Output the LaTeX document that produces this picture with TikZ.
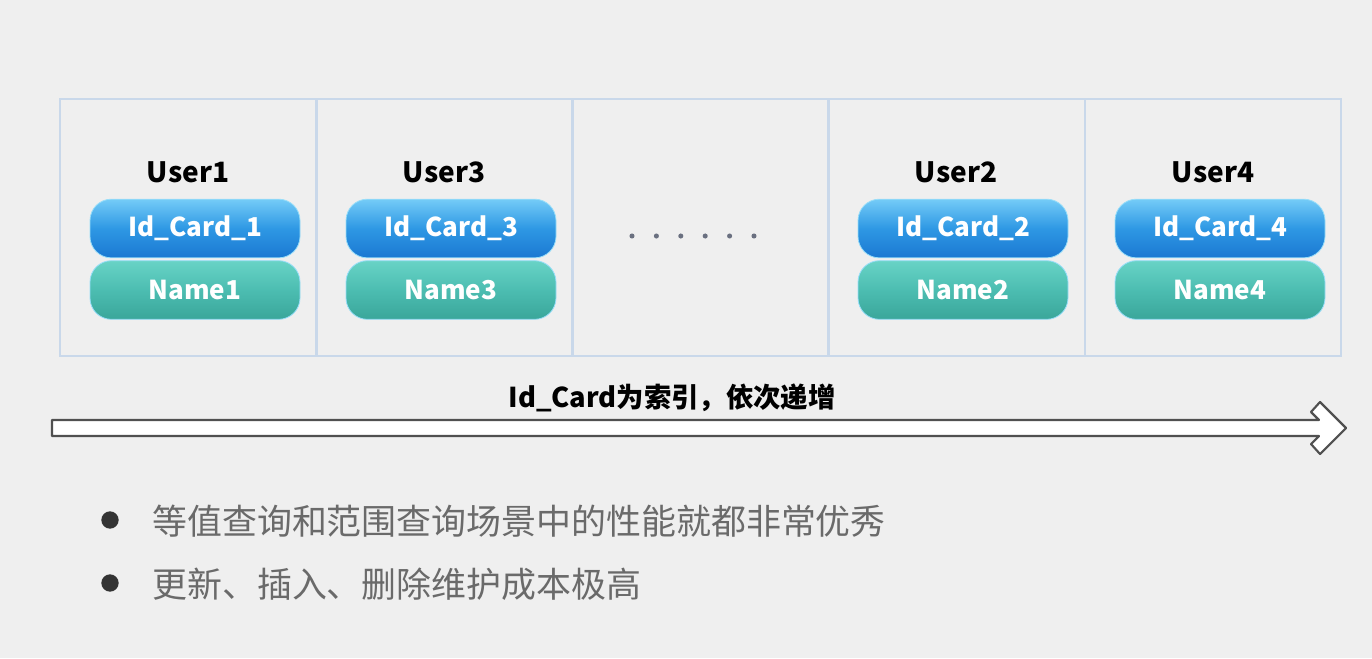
\documentclass[tikz,border=0pt]{standalone}
\usepackage{fontspec}
\setmainfont{Noto Sans CJK SC}
\newfontfamily\cjk{Noto Sans CJK SC}
\usetikzlibrary{shapes.geometric}
\definecolor{bgc}{HTML}{EFEFEF}
\definecolor{gridc}{HTML}{C9D8EA}
\definecolor{bluetop}{HTML}{74CBF7}
\definecolor{bluemid}{HTML}{2E98E4}
\definecolor{bluebot}{HTML}{1B78D2}
\definecolor{tealtop}{HTML}{68D3C6}
\definecolor{tealmid}{HTML}{4CBDB1}
\definecolor{tealbot}{HTML}{3AA69A}
\definecolor{txtgray}{HTML}{6A6A6A}
\definecolor{arrowc}{HTML}{505050}
\definecolor{dotc}{HTML}{6A7080}
\tikzset{
  usertitle/.style={font=\cjk\bfseries\fontsize{21}{23}\selectfont, text=black, inner sep=0pt},
  pill/.style={minimum width=157.5pt, minimum height=44pt, rounded corners=16pt, inner sep=0pt,
     text=white, font=\cjk\bfseries\fontsize{19.5}{21}\selectfont, draw=cyan!40, line width=0.6pt},
  idpill/.style={pill, top color=bluetop, bottom color=bluebot, middle color=bluemid},
  namepill/.style={pill, top color=tealtop, bottom color=tealbot, middle color=tealmid},
  cell/.style={draw=gridc, line width=1.5pt, minimum width=192pt, minimum height=192.75pt, inner sep=0pt},
  bullettext/.style={font=\cjk\fontsize{26.2}{28}\selectfont, text=txtgray, anchor=west, inner sep=0pt},
  bulletdot/.style={circle, fill=black!80, minimum size=13pt, inner sep=0pt},
  smalldot/.style={circle, fill=dotc, minimum size=3.8pt, inner sep=0pt},
}
\begin{document}
\begin{tikzpicture}[x=0.75pt, y=-0.75pt]
\useasboundingbox[fill=bgc] (0,0) rectangle (1372,658);
% cells
\node[cell] (c1) at (187.5,227.5) {};
\node[cell] (c2) at (444.5,227.5) {};
\node[cell] (c3) at (700,227.5) {};
\node[cell] (c4) at (956.5,227.5) {};
\node[cell] (c5) at (1213,227.5) {};
% users
\node[usertitle] (u1) at (188,172) {User1};
\node[usertitle] (u3) at (444,172) {User3};
\node[usertitle] (u2) at (956,172) {User2};
\node[usertitle] (u4) at (1213,172) {User4};
\node[idpill] (i1) at (195,228.5) {Id\_Card\_1};
\node[idpill] (i3) at (451,228.5) {Id\_Card\_3};
\node[idpill] (i2) at (963,228.5) {Id\_Card\_2};
\node[idpill] (i4) at (1220,228.5) {Id\_Card\_4};
\node[namepill] (n1) at (195,290) {Name1};
\node[namepill] (n3) at (451,290) {Name3};
\node[namepill] (n2) at (963,290) {Name2};
\node[namepill] (n4) at (1220,290) {Name4};
% dots
\foreach \i in {0,...,5} { \node[smalldot] (d\i) at (632+24.4*\i,236) {}; }
% arrow
\coordinate (as) at (52,428);
\coordinate (tip) at (1346,428);
\draw[arrowc, line width=1.6pt, fill=white, line join=round]
  (52,420) -- (1319,420) -- (1311,412) -- (1320,402) -- (tip) -- (1320,454) -- (1311,444) -- (1319,436) -- (52,436) -- cycle;
\node[font=\cjk\bfseries\fontsize{20.5}{22}\selectfont, inner sep=0pt] (lbl) at (672,398) {Id\_Card为索引，依次递增};
% bullets
\node[bulletdot] (b1) at (110,520) {};
\node[bullettext] (t1) at (152,521) {等值查询和范围查询场景中的性能就都非常优秀};
\node[bulletdot] (b2) at (110,583) {};
\node[bullettext] (t2) at (152,584) {更新、插入、删除维护成本极高};
\end{tikzpicture}
\end{document}
